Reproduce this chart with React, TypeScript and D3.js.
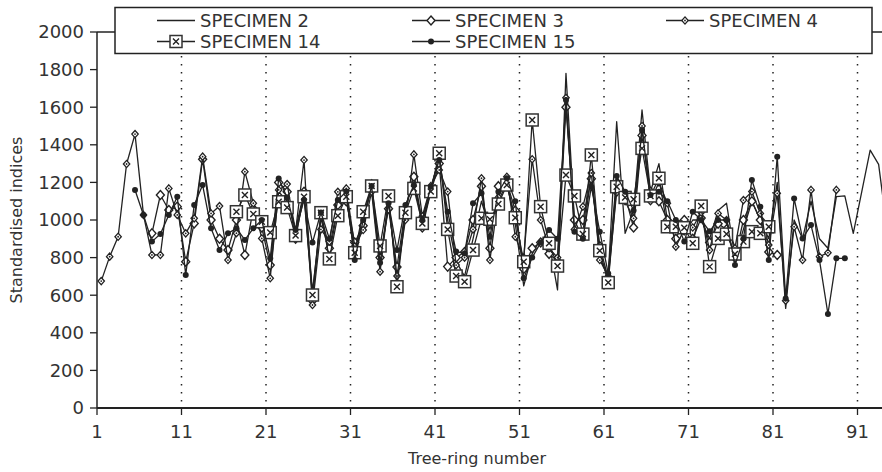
import React from 'react';
import * as d3 from 'd3';

// tree-ring index series (first ring of each series given separately)
const spec2Start = 21;
const spec2 = [720, 1150, 1100, 950, 1150, 620, 1010, 820, 1060, 1130, 800, 1020, 1170, 760, 1110, 680, 1050, 1250, 980, 1160,
  1340, 1000, 780, 700, 900, 1100, 950, 1100, 1200, 980, 650, 820, 900, 880, 628, 1780, 1000, 900, 1250, 800,
  700, 1523, 929, 1050, 1585, 1150, 1300, 1000, 950, 920, 1000, 1000, 900, 1050, 1089, 800, 950, 1100, 1000, 900,
  1200, 530, 1000, 900, 1100, 900, 850, 1124, 1128, 929, 1150, 1372, 1296, 950];

const spec3Start = 7;
const spec3 = [929, 1133, 1053, 1071, 778, 982, 1323, 1000, 900, 840, 1000, 814, 1060, 960, 760, 1200, 1150, 900, 1150, 570,
  1030, 850, 1080, 1100, 880, 970, 1190, 800, 1060, 750, 1060, 1230, 960, 1150, 1300, 752, 800, 830, 1000, 1180,
  850, 1180, 1200, 1050, 740, 850, 880, 820, 780, 1600, 1000, 1000, 1220, 860, 690, 1150, 1130, 960, 1450, 1150,
  1100, 1000, 900, 1000, 900, 1010, 880, 980, 950, 800, 1000, 1100, 1000, 830, 814];

const spec4Start = 1;
const spec4 = [675, 805, 911, 1298, 1457, 1027, 814, 814, 1168, 1027, 929, 1009, 1337, 1035, 1074, 787, 930, 1257, 1089, 902,
  690, 1160, 1191, 940, 1319, 548, 950, 885, 1150, 1168, 860, 947, 1150, 725, 1100, 702, 1000, 1349, 1020, 1180,
  1266, 1151, 760, 800, 950, 1222, 787, 1120, 1230, 911, 800, 1323, 1000, 850, 800, 1650, 950, 1071, 1250, 787,
  700, 1200, 1100, 1009, 1500, 1100, 1200, 1089, 858, 950, 960, 1040, 840, 1035, 1000, 850, 1106, 1151, 1035, 867,
  1142, 571, 964, 787, 1160, 805, 826, 1160];

const spec14Start = 17;
const spec14 = [1044, 1133, 1032, 991, 933, 1097, 1066, 917, 1124, 601, 1039, 793, 1023, 1124, 826, 1044, 1181, 862, 1128, 645,
  1039, 1168, 982, 1151, 1355, 950, 702, 672, 840, 1009, 1004, 1085, 1186, 1012, 778, 1532, 1071, 876, 755, 1239,
  1128, 925, 1346, 837, 667, 1177, 1120, 1110, 1381, 1128, 1222, 964, 964, 959, 876, 1074, 752, 902, 925, 819,
  885, 938, 929, 964];

const spec15Start = 5;
const spec15 = [1160, 1027, 885, 925, 1027, 1124, 707, 1080, 1186, 956, 840, 929, 956, 894, 956, 1000, 796, 1221, 1120, 947,
  1106, 880, 1040, 900, 1106, 1151, 787, 1000, 1181, 773, 1089, 840, 1080, 1186, 1000, 1177, 1319, 1044, 832, 822,
  1089, 1142, 911, 1150, 1222, 1100, 690, 800, 880, 947, 900, 1638, 938, 900, 1177, 938, 716, 1234, 1150, 1050,
  1479, 1133, 1150, 1100, 1000, 885, 1044, 1000, 940, 1000, 1000, 760, 900, 1213, 1071, 787, 1337, 583, 1115, 902,
  973, 787, 500, 796, 796];

const xTicks = [1, 11, 21, 31, 41, 51, 61, 71, 81, 91];
const yTicks = [0, 200, 400, 600, 800, 1000, 1200, 1400, 1600, 1800, 2000];

type Pt = { ring: number; v: number };
const toPts = (start: number, vals: number[]): Pt[] => vals.map((v, i) => ({ ring: start + i, v }));

const series = [
  { name: 'SPECIMEN 2', marker: 'none', pts: toPts(spec2Start, spec2) },
  { name: 'SPECIMEN 3', marker: 'diamond', pts: toPts(spec3Start, spec3) },
  { name: 'SPECIMEN 4', marker: 'smalldiamond', pts: toPts(spec4Start, spec4) },
  { name: 'SPECIMEN 14', marker: 'box', pts: toPts(spec14Start, spec14) },
  { name: 'SPECIMEN 15', marker: 'dot', pts: toPts(spec15Start, spec15) },
];

const W = 882;
const H = 472;
const FONT = 'DejaVu Sans, sans-serif';
const INK = '#222';

function Marker({ kind, cx, cy }: { kind: string; cx: number; cy: number }) {
  if (kind === 'diamond') {
    return <path d={`M${cx},${cy - 4.5}L${cx + 4},${cy}L${cx},${cy + 4.5}L${cx - 4},${cy}Z`} fill="#fff" stroke={INK} strokeWidth={1.4} />;
  }
  if (kind === 'smalldiamond') {
    return (
      <g>
        <path d={`M${cx},${cy - 3.6}L${cx + 3.2},${cy}L${cx},${cy + 3.6}L${cx - 3.2},${cy}Z`} fill="#fff" stroke={INK} strokeWidth={1.3} />
        <circle cx={cx} cy={cy} r={0.9} fill={INK} />
      </g>
    );
  }
  if (kind === 'box') {
    return (
      <g>
        <rect x={cx - 6} y={cy - 6} width={12} height={12} fill="#fff" stroke="#333" strokeWidth={1.5} />
        <path d={`M${cx - 3},${cy - 3}L${cx + 3},${cy + 3}M${cx + 3},${cy - 3}L${cx - 3},${cy + 3}`} stroke={INK} strokeWidth={1.4} />
      </g>
    );
  }
  if (kind === 'dot') {
    return <circle cx={cx} cy={cy} r={3} fill={INK} />;
  }
  return null;
}

export default function App() {
  const x = d3.scaleLinear().domain([0.5, 94.5]).range([97, 97 + 94 * 8.45]);
  const y = d3.scaleLinear().domain([0, 2000]).range([408, 32]);
  const line = d3
    .line<Pt>()
    .x((d) => x(d.ring))
    .y((d) => y(d.v));

  const legendCols = [157, 412, 666];
  const legendRows = [20.5, 41.5];

  return (
    <svg width={W} height={H} style={{ position: 'absolute', left: 0, top: 0, background: '#fff' }} fontFamily={FONT}>
      {/* dotted verticals at the labelled rings */}
      {xTicks.slice(1).map((t) => (
        <line key={t} x1={x(t - 0.5)} x2={x(t - 0.5)} y1={y(2000)} y2={y(0)} stroke={INK} strokeWidth={1.5} strokeDasharray="1.5 6.5" />
      ))}
      <line x1={x(0.5)} x2={W} y1={y(2000)} y2={y(2000)} stroke={INK} strokeWidth={1.3} />

      {series.map((s) => (
        <g key={s.name}>
          <path d={line(s.pts) || ''} fill="none" stroke={INK} strokeWidth={1.3} strokeLinejoin="round" />
          {s.pts.map((p) => (
            <Marker key={p.ring} kind={s.marker} cx={x(p.ring)} cy={y(p.v)} />
          ))}
        </g>
      ))}

      {/* axes */}
      <line x1={x(0.5)} x2={x(0.5)} y1={y(2000)} y2={y(0)} stroke={INK} strokeWidth={1.5} />
      <line x1={x(0.5)} x2={W} y1={y(0)} y2={y(0)} stroke={INK} strokeWidth={2.2} />
      {yTicks.map((t) => (
        <g key={t}>
          <line x1={x(0.5) - 7} x2={x(0.5)} y1={y(t)} y2={y(t)} stroke={INK} strokeWidth={1.3} />
          <text x={84} y={y(t)} dy="0.35em" textAnchor="end" fontSize={18} fill="#333">
            {t}
          </text>
        </g>
      ))}
      {xTicks.map((t) => (
        <g key={t}>
          <line x1={x(t - 0.5)} x2={x(t - 0.5)} y1={y(0)} y2={y(0) + 7} stroke={INK} strokeWidth={1.3} />
          <text x={x(t - 0.5)} y={438} textAnchor="middle" fontSize={18} fill="#333">
            {t}
          </text>
        </g>
      ))}
      <text x={477} y={464} textAnchor="middle" fontSize={16} fill="#333">
        Tree-ring number
      </text>
      <text transform={`translate(22,220) rotate(-90)`} textAnchor="middle" fontSize={16} fill="#333">
        Standardised indices
      </text>

      {/* legend */}
      <rect x={115} y={7.5} width={757} height={46} fill="#fff" stroke={INK} strokeWidth={1.5} />
      {series.map((s, i) => {
        const lx = legendCols[i % 3];
        const ly = legendRows[Math.floor(i / 3)];
        return (
          <g key={s.name}>
            <line x1={lx} x2={lx + 38} y1={ly} y2={ly} stroke={INK} strokeWidth={1.3} />
            <Marker kind={s.marker} cx={lx + 19} cy={ly} />
            <text x={lx + 43} y={ly + 6.5} fontSize={18} fill="#333">
              {s.name}
            </text>
          </g>
        );
      })}
    </svg>
  );
}
